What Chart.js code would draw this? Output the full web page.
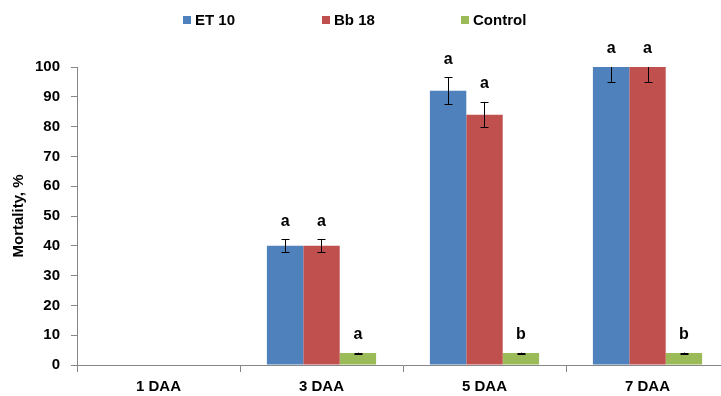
<!DOCTYPE html>
<html>
<head>
<meta charset="utf-8">
<script src="https://cdn.jsdelivr.net/npm/chart.js@4.4.1/dist/chart.umd.min.js"></script>
<style>
  html, body { margin: 0; padding: 0; background: #fff; overflow: hidden; }
  #wrap { width: 721px; height: 396px; overflow: hidden; }
  canvas { display: block; }
</style>
</head>
<body>
<div id="wrap"><canvas id="c" width="731" height="396"></canvas></div>
<script>
const categories = ['1 DAA', '3 DAA', '5 DAA', '7 DAA'];
const seriesNames = ['ET 10', 'Bb 18', 'Control'];
const et10 = [0, 40, 92, 100];
const bb18 = [0, 40, 84, 100];
const control = [0, 4, 4, 4];
const et10Err = [0, 2.2, 4.5, 5.1];
const bb18Err = [0, 2.2, 4.3, 5.1];
const controlErr = [0, 0.15, 0.15, 0.15];
const et10Letters = ['', 'a', 'a', 'a'];
const bb18Letters = ['', 'a', 'a', 'a'];
const controlLetters = ['', 'a', 'b', 'b'];
const yTicks = [0, 10, 20, 30, 40, 50, 60, 70, 80, 90, 100];

const FONT = '"Liberation Sans", Arial, sans-serif';
const AXIS = '#868686';
const colors = ['#4F81BD', '#C0504D', '#9BBB59'];
const errs = [et10Err, bb18Err, controlErr];
const letters = [et10Letters, bb18Letters, controlLetters];

const errorBarPlugin = {
  id: 'errorBars',
  afterDatasetsDraw(chart) {
    const ctx = chart.ctx;
    const y = chart.scales.y;
    const area = chart.chartArea;
    chart.data.datasets.forEach((ds, di) => {
      const meta = chart.getDatasetMeta(di);
      meta.data.forEach((bar, i) => {
        const v = ds.data[i];
        if (!v) return;
        const e = errs[di][i];
        const yTop = y.getPixelForValue(v + e);
        const yBot = y.getPixelForValue(v - e);
        const x = Math.round(bar.x) + 0.5;
        ctx.save();
        ctx.beginPath();
        ctx.rect(area.left, area.top, area.right - area.left, area.bottom - area.top);
        ctx.clip();
        ctx.strokeStyle = '#000';
        ctx.lineWidth = 1;
        ctx.beginPath();
        ctx.moveTo(x, yTop); ctx.lineTo(x, yBot);
        ctx.moveTo(x - 4, Math.round(yTop) + 0.5); ctx.lineTo(x + 4, Math.round(yTop) + 0.5);
        ctx.moveTo(x - 4, Math.round(yBot) + 0.5); ctx.lineTo(x + 4, Math.round(yBot) + 0.5);
        ctx.stroke();
        ctx.restore();
        const lt = letters[di][i];
        if (lt) {
          ctx.save();
          ctx.fillStyle = '#000';
          ctx.font = 'bold 16px ' + FONT;
          ctx.textAlign = 'center';
          ctx.textBaseline = 'middle';
          ctx.fillText(lt, bar.x, Math.max(yTop, area.top) - 18);
          ctx.restore();
        }
      });
    });
  }
};

const legendPlugin = {
  id: 'customLegend',
  afterDraw(chart) {
    const ctx = chart.ctx;
    ctx.save();
    ctx.font = 'bold 15px ' + FONT;
    ctx.textBaseline = 'middle';
    ctx.textAlign = 'left';
    chart.data.datasets.forEach((ds, i) => {
      const x = 183 + i * 139;
      ctx.fillStyle = ds.backgroundColor;
      ctx.fillRect(x, 16, 8, 8);
      ctx.fillStyle = '#000';
      ctx.fillText(ds.label, x + 12, 20.5);
    });
    ctx.restore();
  }
};

new Chart(document.getElementById('c'), {
  type: 'bar',
  data: {
    labels: categories,
    datasets: [
      { label: seriesNames[0], data: et10, backgroundColor: colors[0] },
      { label: seriesNames[1], data: bb18, backgroundColor: colors[1] },
      { label: seriesNames[2], data: control, backgroundColor: colors[2] }
    ]
  },
  options: {
    responsive: false,
    animation: false,
    devicePixelRatio: 1,
    layout: { padding: { top: 67, right: 2, bottom: 0, left: 0 } },
    datasets: { bar: { categoryPercentage: 0.67, barPercentage: 1.0 } },
    plugins: { legend: { display: false }, tooltip: { enabled: false } },
    scales: {
      x: {
        grid: { display: true, drawOnChartArea: false, drawTicks: true, tickLength: 7, color: AXIS, offset: true },
        border: { display: true, color: AXIS, width: 1 },
        ticks: { color: '#000', font: { family: FONT, size: 15, weight: 'bold' }, padding: 6, maxRotation: 0 },
        afterFit(scale) { scale.height = 31; }
      },
      y: {
        min: 0, max: 100,
        afterBuildTicks(scale) { scale.ticks = yTicks.map(v => ({ value: v })); },
        grid: { display: true, drawOnChartArea: false, drawTicks: true, tickLength: 6, color: AXIS },
        border: { display: true, color: AXIS, width: 1 },
        ticks: { color: '#000', font: { family: FONT, size: 15, weight: 'bold' }, padding: 11 },
        title: { display: true, text: 'Mortality, %', color: '#000', font: { family: FONT, size: 15, weight: 'bold' }, padding: { top: 10, bottom: 0 } },
        afterFit(scale) { scale.width = 77; }
      }
    }
  },
  plugins: [errorBarPlugin, legendPlugin]
});
</script>
</body>
</html>
